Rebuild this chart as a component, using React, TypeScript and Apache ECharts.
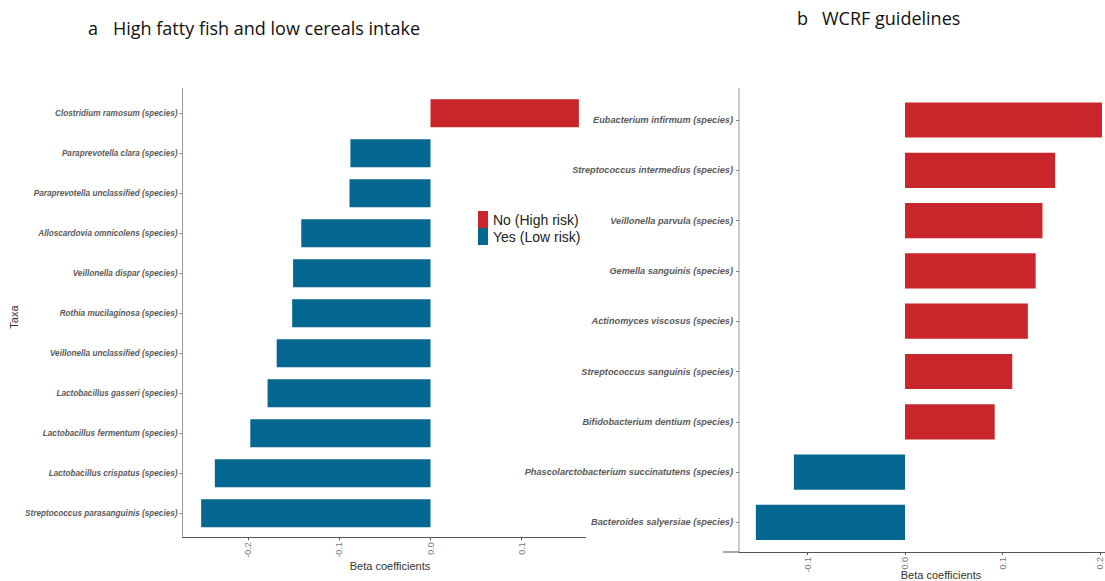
import React, { useEffect, useRef } from "react";
import * as echarts from "echarts";

// Panel a: high fatty fish and low cereals intake
const leftTaxa = [
  "Clostridium ramosum (species)",
  "Paraprevotella clara (species)",
  "Paraprevotella unclassified (species)",
  "Alloscardovia omnicolens (species)",
  "Veillonella dispar (species)",
  "Rothia mucilaginosa (species)",
  "Veillonella unclassified (species)",
  "Lactobacillus gasseri (species)",
  "Lactobacillus fermentum (species)",
  "Lactobacillus crispatus (species)",
  "Streptococcus parasanguinis (species)",
];
const leftBeta = [0.163, -0.088, -0.089, -0.142, -0.151, -0.152, -0.169, -0.179, -0.198, -0.237, -0.252];

// Panel b: WCRF guidelines
const rightTaxa = [
  "Eubacterium infirmum (species)",
  "Streptococcus intermedius (species)",
  "Veillonella parvula (species)",
  "Gemella sanguinis (species)",
  "Actinomyces viscosus (species)",
  "Streptococcus sanguinis (species)",
  "Bifidobacterium dentium (species)",
  "Phascolarctobacterium succinatutens (species)",
  "Bacteroides salyersiae (species)",
];
const rightBeta = [0.202, 0.154, 0.141, 0.134, 0.126, 0.110, 0.092, -0.114, -0.153];

const leftTicks = [-0.2, -0.1, 0.0, 0.1];
const rightTicks = [-0.1, 0.0, 0.1, 0.2];

const HIGH = "No (High risk)";
const LOW = "Yes (Low risk)";
const RED = "#c9262b";
const BLUE = "#036791";

const LABEL_FONT = "'Liberation Sans', Arial, sans-serif";
const TITLE_FONT = "'Open Sans', 'Noto Sans', sans-serif";

function splitBySign(vals: number[]) {
  return {
    pos: vals.map((v) => (v > 0 ? v : "-")),
    neg: vals.map((v) => (v < 0 ? v : "-")),
  };
}

function xAxisFor(gridIndex: number, min: number, max: number, ticks: number[], offset: number) {
  return {
    type: "value",
    gridIndex,
    min,
    max,
    offset,
    splitLine: { show: false },
    axisLine: { show: true, onZero: false, lineStyle: { color: "#555", width: 1 } },
    axisTick: { show: true, length: 3, customValues: ticks, lineStyle: { color: "#555" } },
    axisLabel: {
      customValues: ticks,
      rotate: 90,
      margin: 5,
      fontSize: 9,
      color: "#777",
      fontFamily: LABEL_FONT,
      formatter: (v: number) => v.toFixed(1),
    },
  };
}

function yAxisFor(gridIndex: number, taxa: string[], fontSize: number, margin: number) {
  return {
    type: "category",
    gridIndex,
    data: taxa,
    inverse: true,
    axisLine: { show: false, onZero: false },
    axisTick: { show: true, length: 3, alignWithLabel: true, lineStyle: { color: "#888" } },
    axisLabel: {
      margin,
      fontSize,
      fontStyle: "italic",
      fontWeight: "bold",
      color: "#5a5a5a",
      fontFamily: LABEL_FONT,
    },
  };
}

export default function App() {
  const ref = useRef<HTMLDivElement>(null);

  useEffect(() => {
    if (!ref.current) return;
    const chart = echarts.init(ref.current, null, { renderer: "svg" });
    const L = splitBySign(leftBeta);
    const R = splitBySign(rightBeta);

    const barBase = { type: "bar", barWidth: "70%", barGap: "-100%" };

    chart.setOption({
      animation: false,
      backgroundColor: "#ffffff",
      grid: [
        { left: 182.5, top: 93.3, width: 403, height: 440 },
        { left: 739, top: 94.85, width: 381, height: 452.7 },
      ],
      xAxis: [
        xAxisFor(0, -0.2725, 0.1703, leftTicks, 4),
        xAxisFor(1, -0.1703, 0.2205, rightTicks, 4.5),
      ],
      yAxis: [yAxisFor(0, leftTaxa, 8.2, 5), yAxisFor(1, rightTaxa, 9.2, 6)],
      legend: {
        data: [HIGH, LOW],
        orient: "vertical",
        left: 478,
        top: 211,
        padding: 0,
        itemWidth: 10,
        itemHeight: 17,
        itemGap: 0,
        icon: "rect",
        textStyle: { fontSize: 14, color: "#222", fontFamily: LABEL_FONT, padding: [0, 0, 0, 0] },
      },
      series: [
        { ...barBase, name: HIGH, xAxisIndex: 0, yAxisIndex: 0, data: L.pos, itemStyle: { color: RED } },
        { ...barBase, name: LOW, xAxisIndex: 0, yAxisIndex: 0, data: L.neg, itemStyle: { color: BLUE } },
        { ...barBase, name: HIGH, xAxisIndex: 1, yAxisIndex: 1, data: R.pos, itemStyle: { color: RED } },
        { ...barBase, name: LOW, xAxisIndex: 1, yAxisIndex: 1, data: R.neg, itemStyle: { color: BLUE } },
      ],
      graphic: [
        // vertical axis lines, extended past the outer categories
        { type: "line", shape: { x1: 182.5, y1: 88, x2: 182.5, y2: 537.5 }, style: { stroke: "#999", lineWidth: 1 } },
        { type: "line", shape: { x1: 739, y1: 88, x2: 739, y2: 552 }, style: { stroke: "#999", lineWidth: 1 } },
        { type: "line", shape: { x1: 723, y1: 552, x2: 739, y2: 552 }, style: { stroke: "#555", lineWidth: 1 } },
        // panel titles
        { type: "text", style: { x: 88, y: 28, text: "a", fontSize: 18, fill: "#111", fontFamily: TITLE_FONT, textVerticalAlign: "middle" } },
        {
          type: "text",
          style: {
            x: 113, y: 28, text: "High fatty fish and low cereals intake",
            fontSize: 18, fill: "#111", fontFamily: TITLE_FONT, textVerticalAlign: "middle",
          },
        },
        { type: "text", style: { x: 797, y: 18, text: "b", fontSize: 18, fill: "#111", fontFamily: TITLE_FONT, textVerticalAlign: "middle" } },
        {
          type: "text",
          style: {
            x: 822, y: 18, text: "WCRF guidelines",
            fontSize: 18, fill: "#111", fontFamily: TITLE_FONT, textVerticalAlign: "middle",
          },
        },
        // axis titles
        {
          type: "text",
          style: {
            x: 390, y: 566, text: "Beta coefficients", fontSize: 11, fill: "#333",
            fontFamily: LABEL_FONT, textAlign: "center", textVerticalAlign: "middle",
          },
        },
        {
          type: "text",
          style: {
            x: 941, y: 575, text: "Beta coefficients", fontSize: 11, fill: "#333",
            fontFamily: LABEL_FONT, textAlign: "center", textVerticalAlign: "middle",
          },
        },
        {
          type: "text",
          x: 14,
          y: 317,
          rotation: Math.PI / 2,
          style: {
            x: 0, y: 0, text: "Taxa", fontSize: 11, fill: "#333",
            fontFamily: LABEL_FONT, textAlign: "center", textVerticalAlign: "middle",
          },
        },
      ],
    });

    return () => chart.dispose();
  }, []);

  // The chart canvas is wider than the visible frame so that panel b's axis runs past the right edge.
  return (
    <div style={{ position: "absolute", left: 0, top: 0, width: 1105, height: 581, overflow: "hidden", background: "#fff" }}>
      <div ref={ref} style={{ width: 1130, height: 581 }} />
    </div>
  );
}
